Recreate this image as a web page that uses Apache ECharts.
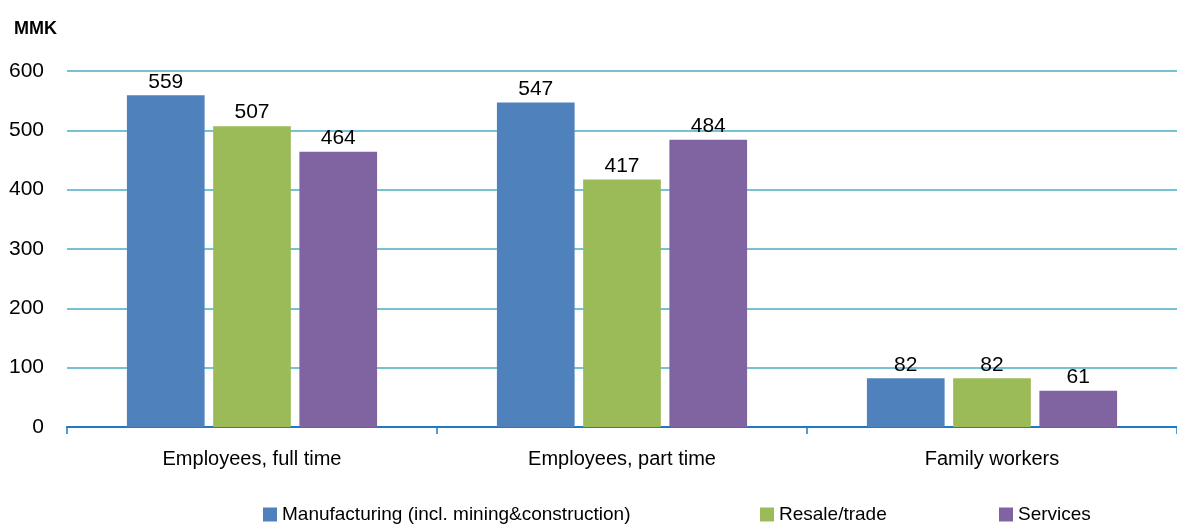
<!DOCTYPE html>
<html>
<head>
<meta charset="utf-8">
<script src="https://cdn.jsdelivr.net/npm/echarts@6/dist/echarts.min.js"></script>
<style>
  html, body { margin: 0; padding: 0; background: #fff; }
  #chart { width: 1177px; height: 526px; }
</style>
</head>
<body>
<div id="chart"></div>
<script>
// 数据
const categories = ['Employees, full time', 'Employees, part time', 'Family workers'];
const seriesNames = ['Manufacturing (incl. mining&construction)', 'Resale/trade', 'Services'];
const manufacturing = [559, 547, 82];
const resale = [507, 417, 82];
const services = [464, 484, 61];
const colors = ['#4F81BD', '#9BBB59', '#8064A2'];
const FONT = '"Liberation Sans", Arial, sans-serif';

const chart = echarts.init(document.getElementById('chart'));

function makeSeries(name, data, color) {
  return {
    name,
    type: 'bar',
    data,
    barWidth: '21%',
    barGap: '11%',
    itemStyle: { color },
    label: {
      show: true,
      position: 'top',
      distance: 3,
      color: '#000',
      fontSize: 21,
      fontFamily: FONT,
    },
  };
}

// 图例分开放置
const legendLeft = [258, 755, 994];

chart.setOption({
  animation: false,
  textStyle: { fontFamily: FONT },
  title: {
    text: 'MMK',
    left: 9,
    top: 15,
    textStyle: { fontSize: 18, fontWeight: 'bold', color: '#000', fontFamily: FONT },
  },
  grid: { left: 67, right: 0, top: 71, bottom: 99, containLabel: false },
  legend: seriesNames.map((n, i) => ({
    data: [n],
    left: legendLeft[i],
    top: 500,
    itemWidth: 14,
    itemHeight: 14,
    itemGap: 5,
    icon: 'rect',
    textStyle: { fontSize: 19, color: '#000', fontFamily: FONT },
  })),
  xAxis: {
    type: 'category',
    data: categories,
    axisLine: { lineStyle: { color: '#1F78C8', width: 2 } },
    axisTick: { show: true, length: 7, lineStyle: { color: '#1F78C8', width: 1.5 } },
    axisLabel: { color: '#000', fontSize: 20, margin: 22, fontFamily: FONT },
  },
  yAxis: {
    type: 'value',
    min: 0,
    max: 600,
    interval: 100,
    axisLine: { show: false },
    axisTick: { show: false },
    axisLabel: { color: '#000', fontSize: 21, margin: 23, fontFamily: FONT },
    splitLine: { lineStyle: { color: '#4BACC6', width: 1.5 } },
  },
  series: [
    makeSeries(seriesNames[0], manufacturing, colors[0]),
    makeSeries(seriesNames[1], resale, colors[1]),
    makeSeries(seriesNames[2], services, colors[2]),
  ],
});
</script>
</body>
</html>
